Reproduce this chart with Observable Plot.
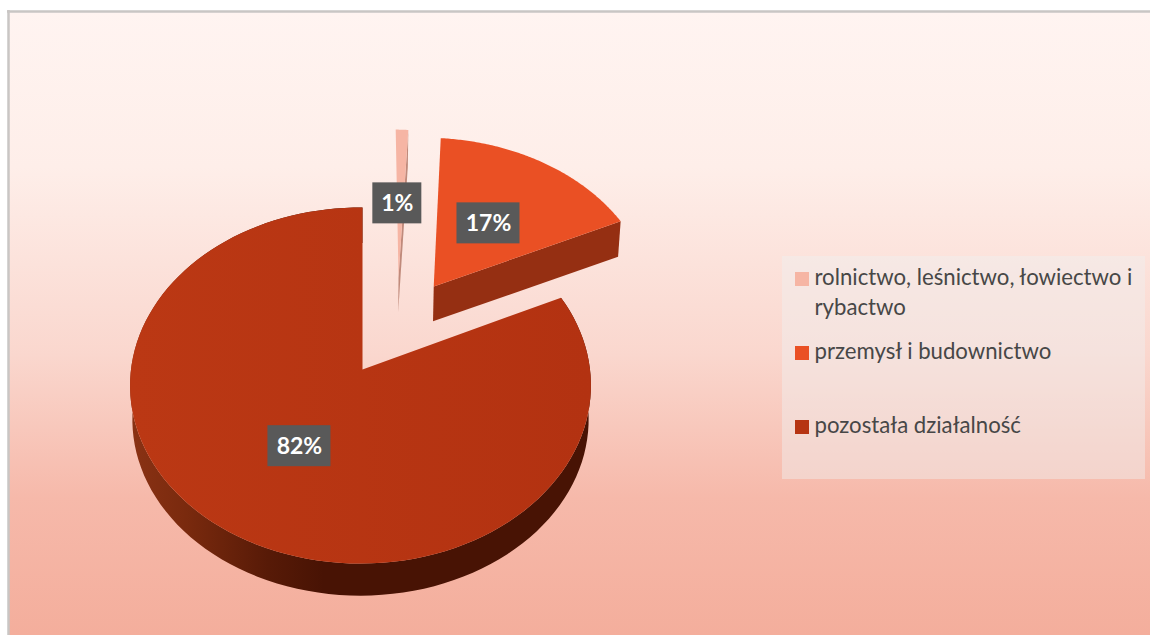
<!DOCTYPE html>
<html lang="pl">
<head>
<meta charset="utf-8">
<script src="https://cdn.jsdelivr.net/npm/d3@7"></script>
<script src="https://cdn.jsdelivr.net/npm/@observablehq/plot@0.6"></script>
<style>html,body{margin:0;padding:0;background:#fff}svg{display:block}</style>
</head>
<body>
<div id="chart"></div>
<script>
// Data
const categories = ["rolnictwo, leśnictwo, łowiectwo i rybactwo", "przemysł i budownictwo", "pozostała działalność"];
const shares = [1, 17, 82];
const colors = ["#f6b5a4", "#ea5024", "url(#top)"];
const swatchColors = ["#f6b5a4", "#ea5024", "#b63412"];
const wallColors = ["#c08a7b", "#952f12", "url(#wall)"];
const legendRows = [["rolnictwo, leśnictwo, łowiectwo i", "rybactwo"], ["przemysł i budownictwo"], ["pozostała działalność"]];

// Layout of the tilted pie (explosion of each slice in disc units)
const W = 1150, H = 635;
const explode = [[0.165, 0.55], [0.325, 0.492], [0, 0]];
const labelNudge = [[-3, 3], [-2, 1], [1, -1]];
const P = {x0: 362, y0: 369, yb: 403, a: 229.5, b: 176.6, p: 0.09, q: 0.0087, s: 0.99};
const project = (u, v, bottom) => {
  const w = 1 + P.p * v + P.q * u, k = bottom ? P.s : 1;
  return [P.x0 + k * P.a * u / w, (bottom ? P.yb : P.y0) - k * P.b * v / w];
};

// Slice geometry from the shares
const total = d3.sum(shares);
let acc = 0;
const slices = shares.map((s, i) => {
  const t0 = acc / total * 2 * Math.PI; acc += s;
  return {i, t0, t1: acc / total * 2 * Math.PI, off: explode[i]};
});
const disc = (d, t, r, bottom) =>
  project(d.off[0] + r * Math.sin(t), d.off[1] + r * Math.cos(t), bottom);
const arc = (d, bottom) => d3.range(0, 121).map(k => disc(d, d.t0 + (d.t1 - d.t0) * k / 120, 1, bottom));

const shape = (pts, fill) => Plot.line(pts, {x: p => p[0], y: p => p[1], fill, stroke: "none", curve: "linear"});

const pieMarks = [];
for (const d of [slices[2], slices[1], slices[0]]) {
  const apexT = disc(d, 0, 0, false), apexB = disc(d, 0, 0, true);
  if (d.i === 2) {
    pieMarks.push(shape([...arc(d, false), ...arc(d, true).reverse()], wallColors[2]));
  } else {
    // wall along the clockwise edge of the slice
    pieMarks.push(shape([apexT, disc(d, d.t1, 1, false), disc(d, d.t1, 1, true), apexB], wallColors[d.i]));
  }
  pieMarks.push(shape([apexT, ...arc(d, false)], colors[d.i]));
}

// Data labels sit half-way along each slice's middle angle
const labels = slices.map(d => {
  const [x, y] = disc(d, (d.t0 + d.t1) / 2, 0.5, false);
  const text = shares[d.i] + "%";
  const half = text.length === 2 ? 24.5 : 31.5;
  return {x: x + labelNudge[d.i][0], y: y + labelNudge[d.i][1], text, half};
});

// Legend rows
const legendTop = 279, legendRowGap = 74, legendLineGap = 29.5, legendTextShift = -1.5;
const legendSwatches = categories.map((c, i) => ({y: legendTop + i * legendRowGap, color: swatchColors[i]}));
const legendLines = legendRows.flatMap((rows, i) =>
  rows.map((t, j) => ({t, y: legendTop + legendTextShift + i * legendRowGap + j * legendLineGap})));

const defs = () => d3.create("svg:defs").html(`
  <linearGradient id="bg" x1="0" y1="0" x2="0" y2="1">
    <stop offset="0" stop-color="#fff4f1"/>
    <stop offset="0.25" stop-color="#feeee9"/>
    <stop offset="0.55" stop-color="#fad7ce"/>
    <stop offset="0.78" stop-color="#f6b9aa"/>
    <stop offset="1" stop-color="#f4ae9c"/>
  </linearGradient>
  <linearGradient id="top" gradientUnits="userSpaceOnUse" x1="130" y1="0" x2="590" y2="0">
    <stop offset="0" stop-color="#bb3814"/>
    <stop offset="1" stop-color="#b33211"/>
  </linearGradient>
  <linearGradient id="wall" gradientUnits="userSpaceOnUse" x1="130" y1="0" x2="590" y2="0">
    <stop offset="0" stop-color="#8a3214"/>
    <stop offset="0.12" stop-color="#7a2a0e"/>
    <stop offset="0.3" stop-color="#571a07"/>
    <stop offset="0.42" stop-color="#481304"/>
    <stop offset="1" stop-color="#481304"/>
  </linearGradient>`).node();

const chart = Plot.plot({
  width: W, height: H, margin: 0,
  x: {domain: [0, W], range: [0, W], axis: null},
  y: {domain: [0, H], range: [0, H], axis: null},
  style: {background: "transparent", fontFamily: "Lato, sans-serif"},
  marks: [
    defs,
    Plot.rect([{}], {x1: 8, x2: W, y1: 11, y2: H, fill: "url(#bg)"}),
    Plot.ruleX([8], {y1: 10, y2: H, stroke: "#c9c6c4", strokeWidth: 2.5}),
    Plot.ruleY([11], {x1: 7, x2: W, stroke: "#c9c6c4", strokeWidth: 2.5}),
    ...pieMarks,
    Plot.rect(labels, {x1: d => d.x - d.half, x2: d => d.x + d.half, y1: d => d.y - 20.5, y2: d => d.y + 20.5, fill: "#595959"}),
    Plot.text(labels, {x: "x", y: "y", text: "text", fill: "#fff", fontSize: 23, fontWeight: 700}),
    Plot.rect([{}], {x1: 782, x2: 1145, y1: 256, y2: 479, fill: "#f0f0f0", fillOpacity: 0.45}),
    Plot.rect(legendSwatches, {x1: 795, x2: 809, y1: d => d.y - 7, y2: d => d.y + 7, fill: "color"}),
    Plot.text(legendLines, {x: 814, y: "y", text: "t", textAnchor: "start", fill: "#474747", fontSize: 22.2})
  ]
});
document.getElementById("chart").appendChild(chart);
</script>
</body>
</html>
